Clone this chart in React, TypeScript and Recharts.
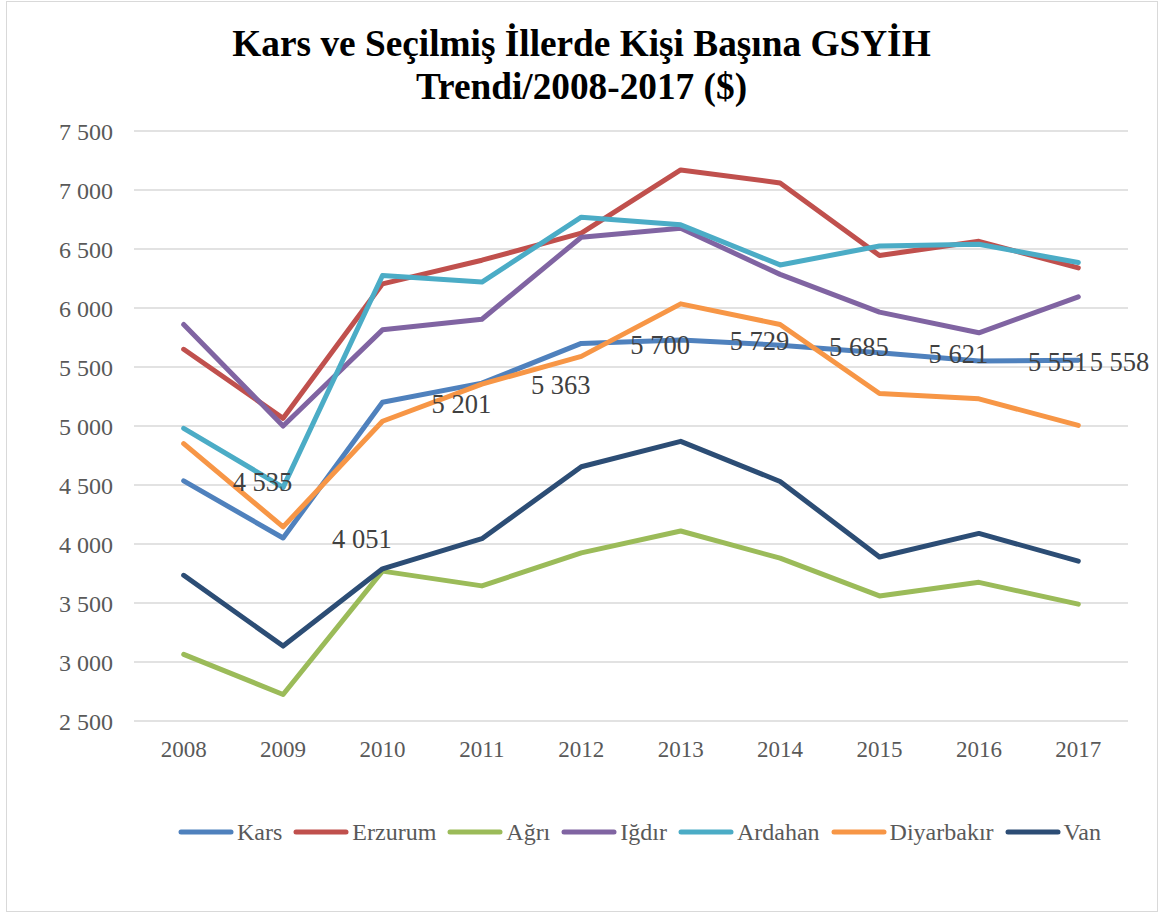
import React from 'react';
import { LineChart, Line, XAxis, YAxis, CartesianGrid, Legend } from 'recharts';

const years = ['2008', '2009', '2010', '2011', '2012', '2013', '2014', '2015', '2016', '2017'];
const kars = [4535, 4051, 5201, 5363, 5700, 5729, 5685, 5621, 5551, 5558];
const erzurum = [5650, 5065, 6205, 6405, 6635, 7170, 7060, 6445, 6565, 6340];
const agri = [3065, 2725, 3770, 3645, 3925, 4110, 3880, 3560, 3675, 3490];
const igdir = [5860, 5000, 5815, 5905, 6600, 6675, 6285, 5965, 5790, 6095];
const ardahan = [4980, 4480, 6275, 6220, 6770, 6705, 6365, 6525, 6540, 6385];
const diyarbakir = [4850, 4145, 5040, 5355, 5590, 6035, 5860, 5275, 5230, 5005];
const van = [3735, 3135, 3790, 4045, 4655, 4870, 4530, 3890, 4090, 3855];
const yTicks = [2500, 3000, 3500, 4000, 4500, 5000, 5500, 6000, 6500, 7000, 7500];

const series = [
  { key: 'Kars', values: kars, color: '#4F81BD' },
  { key: 'Erzurum', values: erzurum, color: '#C0504D' },
  { key: 'Ağrı', values: agri, color: '#9BBB59' },
  { key: 'Iğdır', values: igdir, color: '#8064A2' },
  { key: 'Ardahan', values: ardahan, color: '#4BACC6' },
  { key: 'Diyarbakır', values: diyarbakir, color: '#F79646' },
  { key: 'Van', values: van, color: '#2C4D75' },
];

const data = years.map((year, i) => {
  const row: Record<string, string | number> = { year };
  series.forEach(s => {
    row[s.key] = s.values[i];
  });
  return row;
});

const font = '"Liberation Serif", "Times New Roman", serif';

// 7500 -> "7 500"
const fmt = (v: number) => {
  const s = String(Math.round(v));
  return s.length > 3 ? s.slice(0, -3) + ' ' + s.slice(-3) : s;
};

const renderKarsLabel = (props: any) => {
  const { x, y, value, index } = props;
  const last = index === years.length - 1;
  return (
    <text
      key={`lbl-${index}`}
      x={last ? x + 71 : x + 49}
      y={y + 1}
      dy="0.355em"
      textAnchor={last ? 'end' : 'start'}
      fontFamily={font}
      fontSize={26.5}
      fill="#404040"
    >
      {fmt(value)}
    </text>
  );
};

const renderLegend = () => (
  <div style={{ display: 'flex', alignItems: 'center', height: 32, fontFamily: font, fontSize: 24, color: '#595959' }}>
    {series.map(s => (
      <div key={s.key} style={{ display: 'flex', alignItems: 'center', marginRight: 11 }}>
        <svg width={56} height={10} style={{ marginRight: 3 }}>
          <line x1={3} y1={5} x2={53} y2={5} stroke={s.color} strokeWidth={5} strokeLinecap="round" />
        </svg>
        <span>{s.key}</span>
      </div>
    ))}
  </div>
);

export default function App() {
  return (
    <div style={{ position: 'absolute', left: 0, top: 0, width: 1163, height: 914, background: '#fff' }}>
      <div
        style={{
          position: 'absolute',
          left: 6,
          top: 1,
          width: 1152,
          height: 911,
          border: '1.5px solid #d9d9d9',
          boxSizing: 'border-box',
        }}
      />
      <div
        style={{
          position: 'absolute',
          left: 0,
          top: 22,
          width: 1163,
          textAlign: 'center',
          fontFamily: font,
          fontWeight: 'bold',
          fontSize: 37.3,
          lineHeight: '43px',
          color: '#000',
        }}
      >
        Kars ve Seçilmiş İllerde Kişi Başına GSYİH
        <br />
        Trendi/2008-2017 ($)
      </div>
      <div style={{ position: 'absolute', left: 0, top: 0 }}>
        <LineChart width={1163} height={914} data={data} margin={{ top: 131, right: 35, bottom: 163, left: 0 }}>
          <CartesianGrid vertical={false} stroke="#d9d9d9" strokeWidth={1.5} />
          <XAxis
            dataKey="year"
            padding={{ left: 49.7, right: 49.7 }}
            axisLine={false}
            tickLine={false}
            tickMargin={14}
            height={30}
            tick={{ fontFamily: font, fontSize: 23, fill: '#595959' }}
          />
          <YAxis
            domain={[2500, 7500]}
            ticks={yTicks}
            tickFormatter={fmt}
            axisLine={false}
            tickLine={false}
            tickMargin={15}
            width={134}
            tick={{ fontFamily: font, fontSize: 24, fill: '#595959' }}
          />
          <Legend
            layout="horizontal"
            verticalAlign="middle"
            content={renderLegend}
            wrapperStyle={{ left: 178, top: 816, width: 'auto' }}
          />
          {series.map(s => (
            <Line
              key={s.key}
              type="linear"
              dataKey={s.key}
              stroke={s.color}
              strokeWidth={5}
              strokeLinecap="round"
              strokeLinejoin="round"
              dot={false}
              activeDot={false}
              isAnimationActive={false}
            />
          ))}
          <Line
            dataKey="Kars"
            stroke="none"
            legendType="none"
            dot={false}
            activeDot={false}
            label={renderKarsLabel}
            isAnimationActive={false}
          />
        </LineChart>
      </div>
    </div>
  );
}
